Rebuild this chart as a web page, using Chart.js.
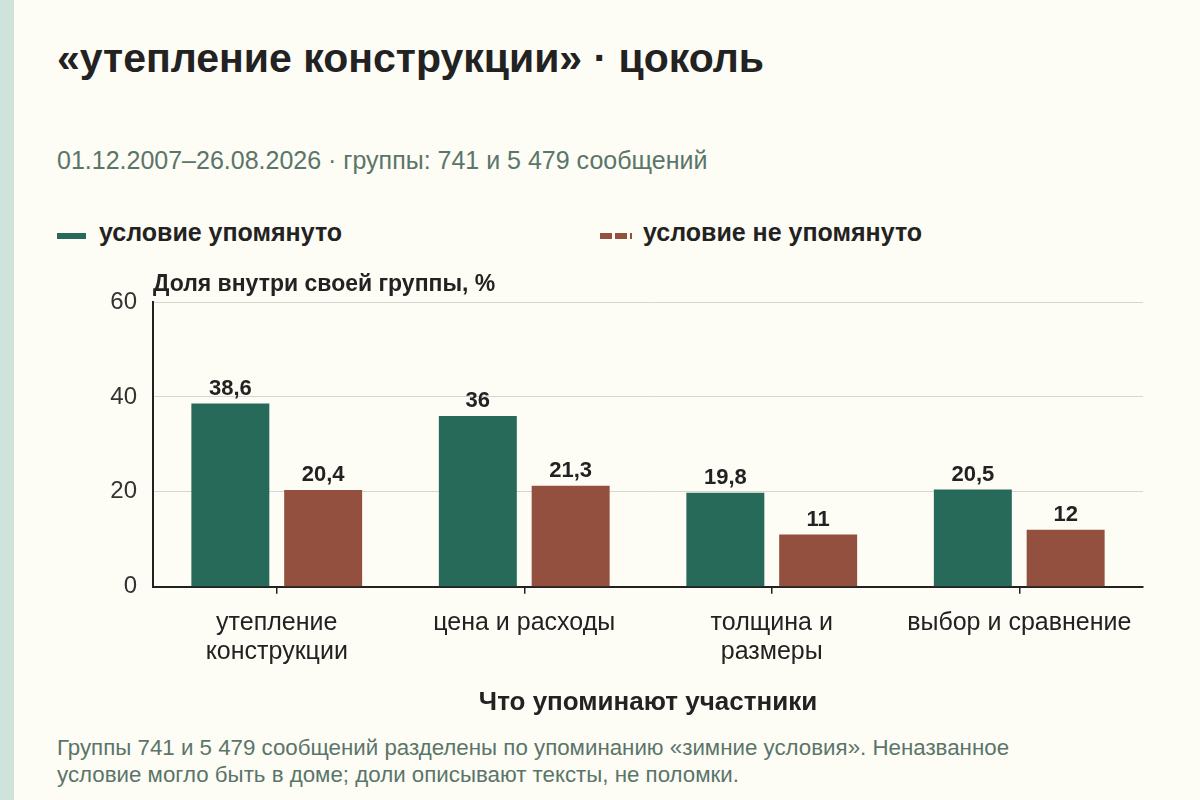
<!DOCTYPE html>
<html lang="ru">
<head>
<meta charset="utf-8">
<title>утепление конструкции · цоколь</title>
<script src="https://cdn.jsdelivr.net/npm/chart.js@4.4.1/dist/chart.umd.min.js"></script>
<style>
  html, body { margin: 0; padding: 0; }
  body {
    width: 1200px; height: 800px; position: relative; overflow: hidden;
    background: #fdfcf5;
    font-family: "Liberation Sans", Arial, sans-serif;
    color: #222;
  }
  .stripe { position: absolute; left: 0; top: 0; width: 14px; height: 800px; background: #cfe3dc; }
  .title { position: absolute; left: 57px; top: 33px; font-size: 41px; font-weight: bold; line-height: 50px; white-space: nowrap; }
  .subtitle { position: absolute; left: 57px; top: 145px; font-size: 25px; line-height: 30px; color: #5a7569; white-space: nowrap; }
  .legend { position: absolute; top: 217px; left: 0; font-size: 25px; font-weight: bold; line-height: 30px; }
  .legend .item { position: absolute; white-space: nowrap; }
  .legend .mark { position: absolute; top: 16px; height: 6px; }
  .legend .txt { position: absolute; top: 0; }
  .note { position: absolute; left: 57px; top: 734px; font-size: 22.3px; line-height: 27px; color: #5a7569; width: 1120px; white-space: nowrap; }
  #wrap { position: absolute; left: 0; top: 270px; width: 1200px; height: 450px; }
</style>
</head>
<body>
<div class="stripe"></div>
<div class="title">«утепление конструкции» · цоколь</div>
<div class="subtitle">01.12.2007–26.08.2026 · группы: 741 и 5 479 сообщений</div>
<div class="legend">
  <div class="item" style="left:57px">
    <span class="mark" style="left:0; width:29px; background:#276a5a"></span>
    <span class="txt" style="left:42px">условие упомянуто</span>
  </div>
  <div class="item" style="left:600px">
    <span class="mark" style="left:0; width:32px; background:repeating-linear-gradient(90deg, #93503f 0 12px, transparent 12px 15px)"></span>
    <span class="txt" style="left:43px">условие не упомянуто</span>
  </div>
</div>
<div id="wrap"><canvas id="chart" width="1200" height="450"></canvas></div>
<div class="note">Группы 741 и 5 479 сообщений разделены по упоминанию «зимние условия». Неназванное<br>условие могло быть в доме; доли описывают тексты, не поломки.</div>

<script>
// данные графика
const categories = [['утепление', 'конструкции'], ['цена и расходы'], ['толщина и', 'размеры'], ['выбор и сравнение']];
const mentioned = [38.6, 36, 19.8, 20.5];
const notMentioned = [20.4, 21.3, 11, 12];
const yTicks = [0, 20, 40, 60];

const GREEN = '#276a5a';
const RED = '#93503f';
const FONT = '"Liberation Sans", Arial, sans-serif';

// подписи значений над столбцами
const valueLabels = {
  id: 'valueLabels',
  afterDatasetsDraw(chart) {
    const ctx = chart.ctx;
    ctx.save();
    ctx.font = 'bold 22px ' + FONT;
    ctx.fillStyle = '#222';
    ctx.textAlign = 'center';
    ctx.textBaseline = 'bottom';
    chart.data.datasets.forEach((ds, i) => {
      chart.getDatasetMeta(i).data.forEach((bar, j) => {
        ctx.fillText(String(ds.data[j]).replace('.', ','), bar.x, bar.y - 4);
      });
    });
    ctx.restore();
  }
};

// подпись оси Y над областью графика
const yTitle = {
  id: 'yTitle',
  afterDraw(chart) {
    const ctx = chart.ctx;
    ctx.save();
    ctx.font = 'bold 23px ' + FONT;
    ctx.fillStyle = '#222';
    ctx.textAlign = 'left';
    ctx.textBaseline = 'middle';
    ctx.fillText('Доля внутри своей группы, %', chart.chartArea.left, chart.chartArea.top - 17);
    ctx.restore();
  }
};

document.addEventListener('DOMContentLoaded', function() {
  const ctx = document.getElementById('chart').getContext('2d');
  new Chart(ctx, {
    type: 'bar',
    data: {
      labels: categories,
      datasets: [
        { label: 'условие упомянуто', data: mentioned, backgroundColor: GREEN },
        { label: 'условие не упомянуто', data: notMentioned, backgroundColor: RED }
      ]
    },
    options: {
      responsive: false,
      animation: false,
      devicePixelRatio: 1,
      categoryPercentage: 0.75,
      barPercentage: 0.84,
      layout: { padding: { left: 20, right: 57, top: 32, bottom: 0 } },
      plugins: { legend: { display: false }, tooltip: { enabled: false } },
      scales: {
        x: {
          grid: { drawOnChartArea: false, offset: false, color: '#222', tickLength: 7, lineWidth: 1.5 },
          border: { color: '#222', width: 2 },
          ticks: {
            color: '#222', padding: 15, maxRotation: 0,
            font: { family: FONT, size: 25, lineHeight: 1.16 }
          },
          title: {
            display: true, text: 'Что упоминают участники', color: '#222',
            font: { family: FONT, size: 26, weight: 'bold', lineHeight: 1.2 },
            padding: { top: 5, bottom: 2 }
          }
        },
        y: {
          min: 0, max: 60,
          afterBuildTicks(scale) { scale.ticks = yTicks.map(v => ({ value: v })); },
          afterFit(scale) { scale.width = 133; },
          grid: { color: '#d6d6d0', drawTicks: false, lineWidth: 1 },
          border: { color: '#222', width: 2 },
          ticks: {
            color: '#333', padding: 16,
            font: { family: FONT, size: 24 }
          }
        }
      }
    },
    plugins: [valueLabels, yTitle]
  });
});
</script>
</body>
</html>
